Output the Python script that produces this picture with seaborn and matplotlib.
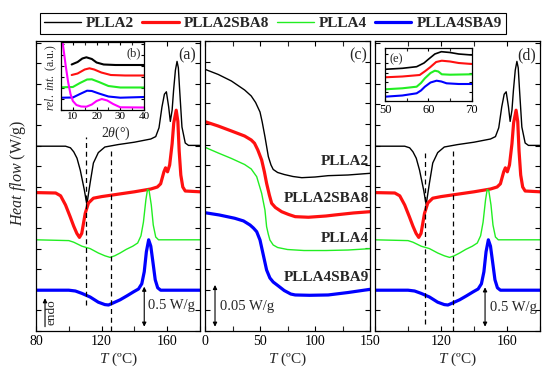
import numpy as np
import matplotlib
matplotlib.use("Agg")
import matplotlib.pyplot as plt
from matplotlib.ticker import MultipleLocator, NullFormatter
import seaborn as sns

# ---- data ----
names = ["PLLA2", "PLLA2SBA8", "PLLA4", "PLLA4SBA9"]
colors = ["black", "#ff1010", "#22ee22", "#0000ff"]
widths = [1.0, 2.3, 1.0, 2.3]

# heating scans (panels a and d), heat flow in W/g, shifted
T_plla2 = [80, 98, 101, 103, 105, 107, 109.5, 111, 113, 115, 118, 122, 130, 140, 150, 153, 155,
           156.8, 158.3, 159.5, 160.9, 161.9, 163, 163.9, 165, 166, 166.8, 167.6, 169, 171, 173, 180]
hf_plla2 = [2.31, 2.31, 2.29, 2.24, 2.16, 2.01, 1.76, 1.58, 1.85, 2.10, 2.23, 2.30, 2.33, 2.36, 2.40, 2.43, 2.54,
            2.80, 2.96, 2.99, 2.80, 2.62, 2.76, 3.01, 3.26, 3.37, 3.29, 3.01, 2.55, 2.35, 2.32, 2.32]

T_sba8 = [80, 92, 95, 98, 100.8, 103, 104.9, 106.5, 107.9, 110, 112, 115, 120, 130, 140, 150, 154, 156,
          158, 159, 160.2, 161.5, 163, 164, 165.5, 166.5, 167.3, 168.3, 169.5, 171, 180]
hf_sba8 = [1.73, 1.725, 1.69, 1.575, 1.43, 1.31, 1.22, 1.17, 1.22, 1.47, 1.60, 1.66, 1.68, 1.71, 1.74, 1.775, 1.80, 1.84,
           1.99, 2.04, 1.99, 2.075, 2.34, 2.60, 2.76, 2.62, 2.25, 1.95, 1.80, 1.75, 1.74]

T_plla4 = [80, 100, 103, 108, 113, 118, 122, 125.2, 128, 131.3, 135, 139, 142, 144, 145.5, 147, 148, 149,
           150.3, 151.5, 153, 154.7, 180]
hf_plla4 = [1.14, 1.13, 1.11, 1.06, 1.03, 0.975, 0.94, 0.92, 0.94, 0.975, 1.02, 1.06, 1.10, 1.19, 1.36, 1.64, 1.77, 1.75,
            1.575, 1.325, 1.175, 1.14, 1.14]

T_sba9 = [80, 100, 104, 108, 113, 118, 122, 124.2, 127, 131.3, 135.5, 139.5, 142.5, 144.5, 146, 147.3, 148.7,
          150, 151.3, 152.7, 154.2, 156, 180]
hf_sba9 = [0.51, 0.51, 0.50, 0.47, 0.425, 0.36, 0.33, 0.325, 0.35, 0.39, 0.44, 0.49, 0.525, 0.59, 0.74, 0.99, 1.14,
           1.06, 0.86, 0.64, 0.54, 0.51, 0.51]

# glass transition region (panel c)
Tg_plla2 = [0, 12, 24, 36, 42, 46, 50, 52, 54.5, 57.6, 60, 62, 66, 72, 80, 88, 100, 112, 130, 150]
hfg_plla2 = [0.3115, 0.3054, 0.2976, 0.2869, 0.2798, 0.2720, 0.2607, 0.2488, 0.2313, 0.2075, 0.1976, 0.1923,
             0.1887, 0.1863, 0.1839, 0.1825, 0.1833, 0.1849, 0.1857, 0.1877]
Tg_sba8 = [0, 12, 24, 36, 42, 45, 48, 51.5, 54, 56, 58.5, 60.6, 64, 69.7, 76, 82, 94, 110, 118, 135, 150]
hfg_sba8 = [0.2492, 0.2440, 0.2381, 0.2321, 0.2274, 0.2235, 0.2155, 0.2036, 0.1893, 0.1758, 0.1619, 0.1520,
            0.1470, 0.1420, 0.1387, 0.1361, 0.1354, 0.1369, 0.1381, 0.1405, 0.1420]
Tg_plla4 = [0, 12, 24, 36, 42, 47, 51.5, 54.5, 56, 57.5, 59, 62, 66, 75, 90, 110, 130, 150]
hfg_plla4 = [0.2187, 0.2119, 0.2054, 0.1982, 0.1929, 0.1837, 0.1639, 0.1440, 0.1242, 0.1155, 0.1083, 0.1024,
             0.0994, 0.0970, 0.0958, 0.0958, 0.0964, 0.0980]
Tg_sba9 = [0, 13, 27, 35, 40.9, 44, 47, 50, 53, 56, 59, 62, 66.7, 72, 78, 82, 95, 112, 130, 150]
hfg_sba9 = [0.1408, 0.1381, 0.1342, 0.1310, 0.1262, 0.1226, 0.1182, 0.1083, 0.0905, 0.0726, 0.0631, 0.0583,
            0.0536, 0.0482, 0.0440, 0.0429, 0.0425, 0.0429, 0.0458, 0.0496]

# XRD inset (b)
tt_plla2 = [9.5, 12, 14, 15.7, 18, 20, 23, 28, 40]
xr_plla2 = [45.5, 48, 51.5, 52.7, 51, 47.5, 45.5, 45, 45]
tt_sba8 = [9.5, 12, 15, 17, 19, 22, 26, 32, 40]
xr_sba8 = [35, 36.5, 40.5, 41.7, 40.5, 37.5, 35, 34.5, 34.5]
tt_plla4 = [5.5, 10, 13, 16, 18, 21, 25, 30, 40]
xr_plla4 = [22.7, 23, 27, 30.5, 30.7, 28, 24, 22.5, 22.5]
tt_sba9 = [5.5, 10, 13, 16, 18, 21, 25, 30, 40]
xr_sba9 = [12.3, 12.5, 16, 19.3, 19, 16.5, 13.5, 12.3, 13]
tt_sba = [5.4, 6, 7, 8, 9, 10, 11.5, 13.5, 15.7, 18, 20, 22.2, 24.5, 27, 30, 40]
xr_sba = [73, 62, 44, 28, 16, 9, 5, 3.5, 3.3, 5.5, 9, 11, 9.5, 6, 2.7, 2.5]

# zoom on Tg step, inset (e)
Te_plla2 = [50, 54, 57.3, 59, 60, 61.5, 63, 65, 67, 70]
he_plla2 = [31.7, 32.7, 34.3, 38, 41.7, 47, 49.3, 48.5, 47, 46]
Te_sba8 = [50, 54, 58, 59.3, 60.4, 61.8, 63.1, 65, 67, 70]
he_sba8 = [23.7, 24.5, 26, 30, 33.7, 39, 40.3, 39.5, 38, 37]
Te_plla4 = [50, 54, 57.3, 58.3, 59.2, 60.5, 61.5, 62.3, 63.1, 65, 70]
he_plla4 = [11.7, 12.7, 14.3, 18, 22.7, 28, 30.3, 29.5, 26.7, 26.3, 26.7]
Te_sba9 = [50, 54, 57.3, 58.3, 59.2, 60.5, 61.9, 63, 64.2, 67, 70]
he_sba9 = [4.3, 5.5, 7.7, 10.5, 14.3, 18.5, 20.3, 19.5, 17.7, 17, 17]

dash_a = [110.4, 125.6]
dash_d = [110.3, 127.0]

# ---- style ----
sns.set_style("ticks")
plt.rcParams["font.family"] = ["Liberation Serif", "DejaVu Serif"]
plt.rcParams["mathtext.fontset"] = "custom"
plt.rcParams["mathtext.rm"] = "Liberation Serif"
plt.rcParams["mathtext.it"] = "Liberation Serif:italic"
plt.rcParams["axes.linewidth"] = 0.9

W, H = 550, 378
fig = plt.figure(figsize=(5.5, 3.78), dpi=100)


def box(x0, y0, x1, y1):
    return [x0 / W, 1 - y1 / H, (x1 - x0) / W, (y1 - y0) / H]


ax_a = fig.add_axes(box(36, 41, 200, 331))
ax_c = fig.add_axes(box(205, 41, 370, 331))
ax_d = fig.add_axes(box(375, 41, 540, 331))


def style(ax, step):
    ax.tick_params(direction="in", top=True, right=True, length=3.5, width=0.8,
                   labelsize=10, pad=3, colors="black")
    ax.tick_params(which="minor", direction="in", top=True, right=True, length=3.5, width=0.8)
    ax.yaxis.set_major_locator(MultipleLocator(step))
    ax.yaxis.set_major_formatter(NullFormatter())
    for s in ax.spines.values():
        s.set_color("black")
    ax.set_ylabel("")


heat = [(T_plla2, hf_plla2), (T_sba8, hf_sba8), (T_plla4, hf_plla4), (T_sba9, hf_sba9)]
for ax, dashes in [(ax_a, dash_a), (ax_d, dash_d)]:
    for (t, h), n, c, w in zip(heat, names, colors, widths):
        sns.lineplot(x=t, y=h, ax=ax, color=c, lw=w, label=n, sort=False, estimator=None)
    ax.set_xlim(80, 180)
    ax.set_ylim(0, 3.625)
    ax.set_xticks([80, 120, 160])
    ax.xaxis.set_minor_locator(MultipleLocator(20))
    style(ax, 0.2575)
    ax.set_xlabel("$T$ (ºC)", fontsize=11, labelpad=2)
    ax.get_legend().remove()
# the "80" of panel (d) sits under the "150" of panel (c)
ax_d.set_xticklabels(["", "120", "160"])

ax_a.vlines(dash_a[0], 0.325, 2.425, colors="black", linestyles=(0, (4, 3)), lw=0.9)
ax_a.vlines(dash_a[1], 0, 2.29, colors="black", linestyles=(0, (4, 3)), lw=0.9)
ax_d.vlines(dash_d[0], 0.09, 2.22, colors="black", linestyles=(0, (4, 3)), lw=0.9)
ax_d.vlines(dash_d[1], 0, 2.28, colors="black", linestyles=(0, (4, 3)), lw=0.9)

glass = [(Tg_plla2, hfg_plla2), (Tg_sba8, hfg_sba8), (Tg_plla4, hfg_plla4), (Tg_sba9, hfg_sba9)]
for (t, h), n, c, w in zip(glass, names, colors, widths):
    sns.lineplot(x=t, y=h, ax=ax_c, color=c, lw=w, sort=False, estimator=None)
ax_c.set_xlim(0, 150)
ax_c.set_ylim(0, 0.3452)
ax_c.set_xticks([0, 50, 100, 150])
ax_c.xaxis.set_minor_locator(MultipleLocator(25))
style(ax_c, 0.02464)
ax_c.set_xlabel("$T$ (ºC)", fontsize=11, labelpad=2)
for n, y in zip(names, [0.2015, 0.1583, 0.1107, 0.0631]):
    ax_c.text(149, y, n, ha="right", va="center", fontsize=11, fontweight="bold")

# scale bars and labels
arrow = dict(arrowstyle="<|-|>", lw=0.8, color="black", mutation_scale=6, shrinkA=0, shrinkB=0)
ax_a.annotate("", xy=(146, 0.554), xytext=(146, 0.054), arrowprops=arrow)
ax_a.text(148.5, 0.325, "0.5 W/g", fontsize=10.5, va="center")
ax_a.annotate("", xy=(85.5, 0.41), xytext=(85.5, 0.054),
              arrowprops=dict(arrowstyle="-|>", lw=0.8, color="black", mutation_scale=6, shrinkA=0, shrinkB=0))
ax_a.text(89.5, 0.23, "endo", rotation=90, fontsize=9.5, va="center", ha="center")
ax_c.annotate("", xy=(9.1, 0.0548), xytext=(9.1, 0.0051), arrowprops=arrow)
ax_c.text(13.6, 0.0289, "0.05 W/g", fontsize=10.5, va="center")
ax_d.annotate("", xy=(146.7, 0.546), xytext=(146.7, 0.054), arrowprops=arrow)
ax_d.text(149.7, 0.30, "0.5 W/g", fontsize=10.5, va="center")

fig.text(186.7 / W, 1 - 55 / H, "(a)", fontsize=11.5, ha="center", va="center")
fig.text(358 / W, 1 - 55 / H, "(c)", fontsize=11.5, ha="center", va="center")
fig.text(526.7 / W, 1 - 55 / H, "(d)", fontsize=11.5, ha="center", va="center")

# inset (b)
ins_b = fig.add_axes(box(61, 42, 144, 110))
xrd = [(tt_plla2, xr_plla2), (tt_sba8, xr_sba8), (tt_plla4, xr_plla4), (tt_sba9, xr_sba9)]
for (t, h), c in zip(xrd, colors):
    sns.lineplot(x=t, y=h, ax=ins_b, color=c, lw=1.5, sort=False, estimator=None)
sns.lineplot(x=tt_sba, y=xr_sba, ax=ins_b, color="#ff00ff", lw=1.5, sort=False, estimator=None)
ins_b.set_xlim(5, 40)
ins_b.set_ylim(0, 68)
ins_b.set_xticks([10, 20, 30, 40])
ins_b.xaxis.set_minor_locator(MultipleLocator(5))
style(ins_b, 11)
ins_b.tick_params(labelsize=8, length=2.5, pad=1.5)
ins_b.tick_params(which="minor", length=2.5)
ins_b.text(0.87, 0.84, "(b)", transform=ins_b.transAxes, fontsize=9, ha="center", va="center")
fig.text(51.7 / W, 1 - 78 / H, "$rel.\\ int.$ (a.u.)", rotation=90, fontsize=8.5, ha="center", va="center")
fig.text(116 / W, 1 - 133 / H, "2$\\theta$(°)", fontsize=10, ha="center", va="center")

# inset (e)
ins_e = fig.add_axes(box(385, 48.3, 471.7, 101))
tgz = [(Te_plla2, he_plla2), (Te_sba8, he_sba8), (Te_plla4, he_plla4), (Te_sba9, he_sba9)]
for (t, h), c, w in zip(tgz, colors, [1.2, 1.5, 1.5, 1.5]):
    sns.lineplot(x=t, y=h, ax=ins_e, color=c, lw=w, sort=False, estimator=None)
ins_e.set_xlim(50, 70)
ins_e.set_ylim(0, 52.7)
ins_e.set_xticks([50, 60, 70])
ins_e.xaxis.set_minor_locator(MultipleLocator(5))
style(ins_e, 9.5)
ins_e.tick_params(labelsize=9, length=2.5, pad=2)
ins_e.tick_params(which="minor", length=2.5)
ins_e.text(0.13, 0.8, "(e)", transform=ins_e.transAxes, fontsize=9, ha="center", va="center")

fig.text(18 / W, 1 - 173 / H, "$Heat\\ flow$ (W/g)", rotation=90, fontsize=11.5, ha="center", va="center")

handles, labels = ax_a.get_legend_handles_labels()
leg = fig.legend(handles, names, loc="center", bbox_to_anchor=(273 / W, 1 - 23.5 / H), ncol=4,
                 frameon=True, fancybox=False, edgecolor="black", framealpha=1,
                 prop=dict(weight="bold", size=11), handlelength=2.4, columnspacing=0.5,
                 handletextpad=0.35, borderpad=0.25, borderaxespad=0)
leg.get_frame().set_linewidth(0.8)

fig.savefig("out.png", dpi=100)
